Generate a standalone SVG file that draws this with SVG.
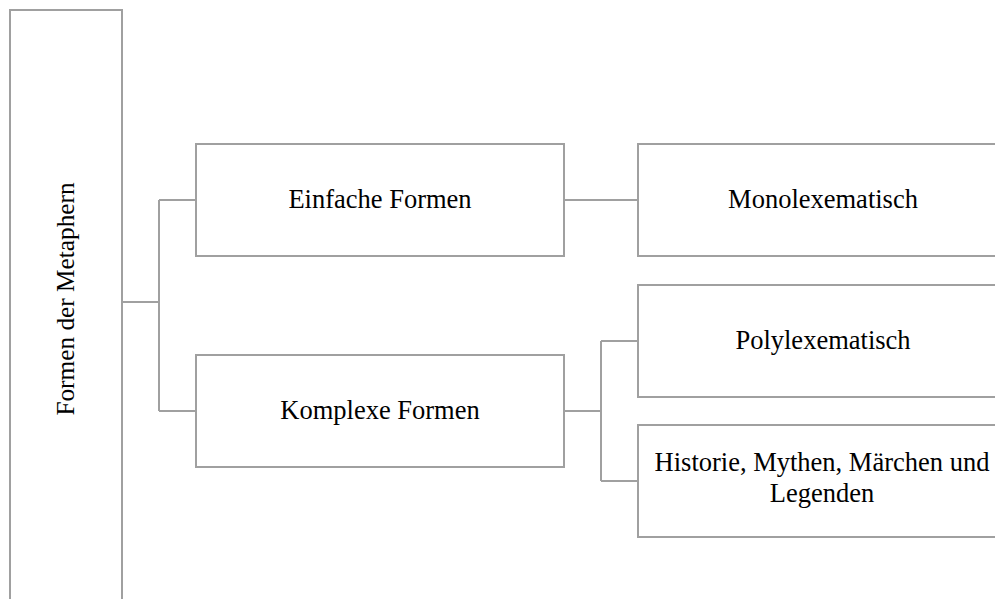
<svg xmlns="http://www.w3.org/2000/svg" width="995" height="599" viewBox="0 0 995 599">
  <style>
    .box { fill: #ffffff; stroke: #a0a0a0; stroke-width: 2; }
    .link { fill: none; stroke: #a0a0a0; stroke-width: 2; }
    .label { font-family: "Liberation Serif", "Times New Roman", serif; font-size: 26.5px; fill: #000000; text-anchor: middle; }
    .vlabel { font-size: 25.3px; }
  </style>
  <rect width="995" height="599" fill="#ffffff"/>

  <g id="connectors">
    <path class="link" d="M122 302 H159 M159 200 V411 M159 200 H196 M159 411 H196"/>
    <path class="link" d="M564 200 H638"/>
    <path class="link" d="M564 411 H601 M601 341 V481 M601 341 H638 M601 481 H638"/>
  </g>

  <g id="root">
    <rect class="box" x="10" y="10" width="112" height="620"/>
    <text class="label vlabel" transform="translate(74 299) rotate(-90)" x="0" y="0">Formen der Metaphern</text>
  </g>

  <g id="einfache">
    <rect class="box" x="196" y="144" width="368" height="112"/>
    <text class="label" x="380" y="208">Einfache Formen</text>
  </g>

  <g id="komplexe">
    <rect class="box" x="196" y="355" width="368" height="112"/>
    <text class="label" x="380" y="419">Komplexe Formen</text>
  </g>

  <g id="mono">
    <rect class="box" x="638" y="144" width="370" height="112"/>
    <text class="label" x="823" y="208">Monolexematisch</text>
  </g>

  <g id="poly">
    <rect class="box" x="638" y="285" width="370" height="112"/>
    <text class="label" x="823" y="349">Polylexematisch</text>
  </g>

  <g id="historie">
    <rect class="box" x="638" y="425" width="370" height="112"/>
    <text class="label" x="822" y="471">Historie, Mythen, Märchen und</text>
    <text class="label" x="822" y="502">Legenden</text>
  </g>
</svg>
